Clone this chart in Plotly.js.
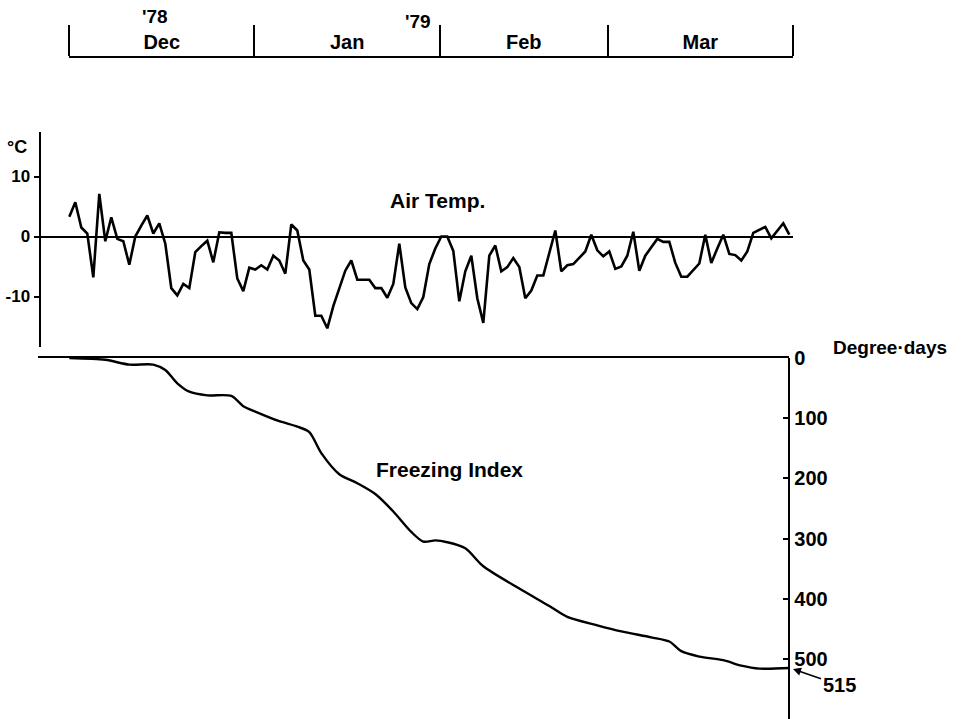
<!DOCTYPE html>
<html>
<head>
<meta charset="utf-8">
<script src="https://cdn.plot.ly/plotly-3.0.1.min.js"></script>
<style>html,body{margin:0;padding:0;background:#fff;}#chart{width:963px;height:719px;}</style>
</head>
<body>
<div id="chart"></div>
<script>
// ---- data ----
const monthNames = ['Dec', 'Jan', 'Feb', 'Mar'];
const monthDays = [31, 31, 28, 31];
const yearLabels = ["'78", "'79"];

// daily mean air temperature (°C), 1 Dec 1978 .. 31 Mar 1979
const airTemp = [
  3.3, 5.7, 1.5, 0.5, -6.8, 7.1, -0.8, 3.2, -0.4, -0.8,
  -4.7, 0, 1.8, 3.5, 0.5, 2.2, -1.2, -8.6, -9.8, -7.9,
  -8.6, -2.6, -1.6, -0.7, -4.3, 0.7, 0.6, 0.6, -7, -9.1,
  -5.2, -5.5, -4.8, -5.5, -3.2, -4, -6.2, 2, 1, -4,
  -5.5, -13.2, -13.2, -15.3, -11.6, -8.6, -5.7, -4, -7.2, -7.2,
  -7.2, -8.6, -8.6, -10.2, -7.9, -1.2, -8.5, -11.1, -12.1, -10.1,
  -4.6, -2.0, 0, 0, -2.4, -10.8, -5.8, -3.2, -10.3, -14.4,
  -3.2, -1.5, -5.8, -5.1, -3.6, -5.1, -10.3, -9, -6.5, -6.5,
  -2.8, 1, -5.8, -4.8, -4.6, -3.5, -2.5, 0.3, -2.3, -3.3,
  -2.5, -5.4, -5, -3.2, 0.8, -5.7, -3.2, -1.8, -0.4, -0.9,
  -0.9, -4.4, -6.7, -6.7, -5.6, -4.5, 0.3, -4.4, -2, 0.3,
  -2.9, -3.1, -4, -2.5, 0.6, 1.1, 1.6, -0.3, 1.0, 2.2,
  0.3
];

// freezing index (degree-days)
const fiDay = [0, 6, 10, 14, 16, 18, 20, 23, 27, 29, 31, 35, 38, 40, 42, 45, 48, 51, 54, 57,
  59, 61, 63, 66, 69, 75, 80, 83, 88, 92, 97, 100, 102, 105, 109, 112, 115, 120];
const fiValue = [0, 3, 11, 11, 20, 42, 56, 62, 63, 80, 89, 105, 114, 123, 158, 193, 208, 226, 255, 289,
  305, 303, 306, 316, 346, 383, 412, 430, 444, 454, 464, 471, 487, 496, 502, 511, 516, 515];

const tempTicks = [-10, 0, 10];
const tempTickText = ['-10', '0', '10'];
const ddTicks = [0, 100, 200, 300, 400, 500];

// ---- helpers ----
const W = 963, H = 719;
const px = x => x / W;
const py = y => 1 - y / H;
const dayIdx = airTemp.map((_, i) => i);
const monthStarts = [0];
monthDays.forEach(d => monthStarts.push(monthStarts[monthStarts.length - 1] + d));
const monthMids = monthDays.map((d, i) => monthStarts[i] + d / 2);

// pixel mapping of day index: x = 69.3 + 6*i
const X0 = 69.3, DX = 6.0;
const dayAt = p => (p - X0) / DX;

const FONT = 'Liberation Sans, Arial, sans-serif';
const f = s => ({family: FONT, size: s, color: '#000', weight: 'bold'});

const traces = [
  {x: dayIdx, y: airTemp, xaxis: 'x', yaxis: 'y', mode: 'lines',
   line: {color: '#000', width: 2.6}, hoverinfo: 'skip', showlegend: false},
  {x: fiDay, y: fiValue, xaxis: 'x2', yaxis: 'y2', mode: 'lines',
   line: {color: '#000', width: 2.4, shape: 'spline', smoothing: 0.8}, hoverinfo: 'skip', showlegend: false},
  // invisible carriers so the month axes are built
  {x: monthStarts, y: monthStarts.map(() => 0.5), xaxis: 'x3', yaxis: 'y3', mode: 'markers',
   marker: {size: 1, opacity: 0}, hoverinfo: 'skip', showlegend: false},
  {x: monthMids, y: monthMids.map(() => 0.5), xaxis: 'x4', yaxis: 'y3', mode: 'markers',
   marker: {size: 1, opacity: 0}, hoverinfo: 'skip', showlegend: false}
];

const lastVal = fiValue[fiValue.length - 1];

const layout = {
  width: W, height: H,
  margin: {l: 0, r: 0, t: 0, b: 0},
  paper_bgcolor: '#fff', plot_bgcolor: 'rgba(0,0,0,0)',
  font: f(20),
  showlegend: false,
  xaxis: {
    domain: [px(40), px(793)], range: [dayAt(40), dayAt(793)],
    anchor: 'y', showline: false, showgrid: false, zeroline: false,
    ticks: '', showticklabels: false, fixedrange: true
  },
  yaxis: {
    domain: [py(346.7), py(131.7)], range: [(236.5 - 346.7) / 6, (236.5 - 131.7) / 6],
    anchor: 'free', position: px(39.5), side: 'left',
    showline: true, linecolor: '#000', linewidth: 2,
    ticks: 'outside', ticklen: 5, tickwidth: 2, tickcolor: '#000',
    tickvals: tempTicks, ticktext: tempTickText, tickfont: f(17),
    showgrid: false, zeroline: true, zerolinecolor: '#000', zerolinewidth: 2, fixedrange: true
  },
  xaxis2: {
    domain: [px(38), px(789.3)], range: [dayAt(38), dayAt(789.3)],
    anchor: 'y2', side: 'top', showline: true, linecolor: '#000', linewidth: 2,
    showgrid: false, zeroline: false, ticks: '', showticklabels: false, fixedrange: true
  },
  yaxis2: {
    domain: [0, py(358)], range: [(719 - 358) / 0.602, 0],
    anchor: 'free', position: px(789.3), side: 'right',
    showline: true, linecolor: '#000', linewidth: 2,
    ticks: 'inside', ticklen: 5, tickwidth: 2, tickcolor: '#000',
    tickvals: ddTicks, tickfont: f(20),
    showgrid: false, zeroline: false, fixedrange: true
  },
  yaxis3: {
    domain: [py(57), py(20)], range: [0, 1], anchor: 'x3',
    visible: false, fixedrange: true
  },
  xaxis3: {
    domain: [px(69), px(793)], range: [monthStarts[0], monthStarts[monthStarts.length - 1]],
    anchor: 'free', position: py(57), side: 'top',
    showline: true, linecolor: '#000', linewidth: 2,
    ticks: 'outside', ticklen: 31, tickwidth: 2, tickcolor: '#000',
    tickvals: monthStarts, showticklabels: false,
    showgrid: false, zeroline: false, fixedrange: true
  },
  xaxis4: {
    domain: [px(69), px(793)], range: [monthStarts[0], monthStarts[monthStarts.length - 1]],
    anchor: 'free', position: py(57), side: 'top',
    showline: false, ticks: '', ticklen: 0, ticklabelstandoff: 4,
    tickvals: monthMids, ticktext: monthNames, tickfont: f(20),
    showgrid: false, zeroline: false, fixedrange: true
  },
  annotations: [
    {xref: 'paper', yref: 'paper', x: px(155), y: py(17), xanchor: 'center', yanchor: 'middle',
     text: yearLabels[0], showarrow: false, font: f(19)},
    {xref: 'paper', yref: 'paper', x: px(418), y: py(21), xanchor: 'center', yanchor: 'middle',
     text: yearLabels[1], showarrow: false, font: f(19)},
    {xref: 'paper', yref: 'paper', x: px(17), y: py(147), xanchor: 'center', yanchor: 'middle',
     text: '°C', showarrow: false, font: f(18)},
    {xref: 'paper', yref: 'paper', x: px(437), y: py(200), xanchor: 'center', yanchor: 'middle',
     text: 'Air Temp.', showarrow: false, font: f(21)},
    {xref: 'paper', yref: 'paper', x: px(449), y: py(469), xanchor: 'center', yanchor: 'middle',
     text: 'Freezing Index', showarrow: false, font: f(21)},
    {xref: 'paper', yref: 'paper', x: px(890), y: py(347), xanchor: 'center', yanchor: 'middle',
     text: 'Degree·days', showarrow: false, font: f(19)},
    {xref: 'paper', yref: 'paper', x: px(793), y: py(669), text: String(lastVal),
     showarrow: true, arrowhead: 2, arrowsize: 1, arrowwidth: 1.6, arrowcolor: '#000',
     ax: 46, ay: 16, font: f(20)}
  ]
};

Plotly.newPlot('chart', traces, layout, {staticPlot: true, displayModeBar: false});
</script>
</body>
</html>
